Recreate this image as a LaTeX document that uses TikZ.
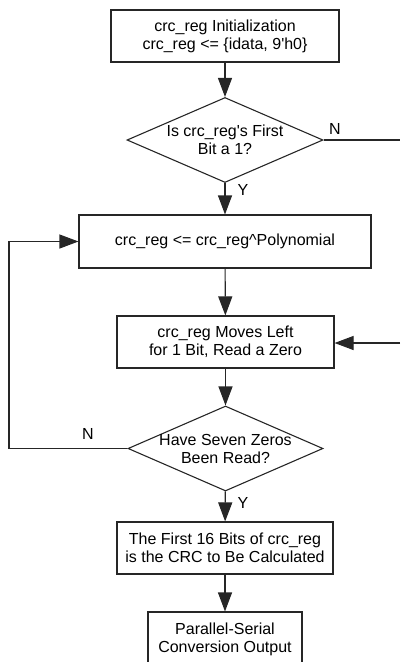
\documentclass[tikz,border=0pt]{standalone}
\usepackage{fontspec}
\setmainfont{Liberation Sans}
\usetikzlibrary{shapes.geometric,arrows.meta}
\begin{document}
\begin{tikzpicture}[x=1pt,y=-1pt,
  font=\fontsize{16}{18}\selectfont,
  line width=1.1pt,
  stepbox/.style={draw=black!85,rectangle,inner sep=0pt,align=center},
  decision/.style={draw=black!85,diamond,inner sep=0pt},
  flow/.style={draw=black!85,-{Triangle[length=19pt,width=14pt]}},
  wire/.style={draw=black!85},
  yn/.style={inner sep=0pt}]
\useasboundingbox (0,0) rectangle (400,662);

% process boxes and decisions
\node[stepbox,minimum width=228pt,minimum height=52pt] (init) at (225,36)
  {crc\_reg Initialization\\crc\_reg <= \{idata, 9\textquotesingle h0\}};
\node[decision,minimum width=196pt,minimum height=85pt,
  label={[align=center]center:Is crc\_reg\textquotesingle s First\\Bit a 1?}] (first) at (225,140) {};
\node[stepbox,minimum width=292pt,minimum height=53pt] (xor) at (225,241.5)
  {crc\_reg <= crc\_reg\string^Polynomial};
\node[stepbox,minimum width=217pt,minimum height=52pt] (shift) at (225.5,342)
  {crc\_reg Moves Left\\for 1 Bit, Read a Zero};
\node[decision,minimum width=195pt,minimum height=85pt,
  label={[align=center]center:Have Seven Zeros\\Been Read?}] (seven) at (225.5,448.5) {};
\node[stepbox,minimum width=216pt,minimum height=52pt] (crc) at (225,548)
  {The First 16 Bits of crc\_reg\\is the CRC to Be Calculated};
\node[stepbox,minimum width=154pt,minimum height=54pt] (out) at (225,639)
  {Parallel-Serial\\Conversion Output};

% main flow
\draw[flow] (init) -- (first);
\draw[flow] (first) -- (xor);
\draw[flow] (xor) -- (shift);
\draw[flow] (shift) -- (seven);
\draw[flow] (seven) -- (crc);
\draw[flow] (crc) -- (out);

% "N" branch of the first decision, continuing off the right edge
\coordinate (rightout) at (400,140);
\coordinate (rightin) at (400,343);
\draw[wire] (first.east) -- (rightout);
\draw[flow] (rightin) -- (shift.east |- rightin);

% loop back when fewer than seven zeros have been read
\coordinate (loopcorner) at (9,448.5);
\draw[flow] (seven.west) -- (loopcorner) |- (xor.west);

% branch labels
\node[yn] (n1) at (335,129) {N};
\node[yn] (y1) at (243,190) {Y};
\node[yn] (n2) at (88,434) {N};
\node[yn] (y2) at (243,503) {Y};
\end{tikzpicture}
\end{document}
